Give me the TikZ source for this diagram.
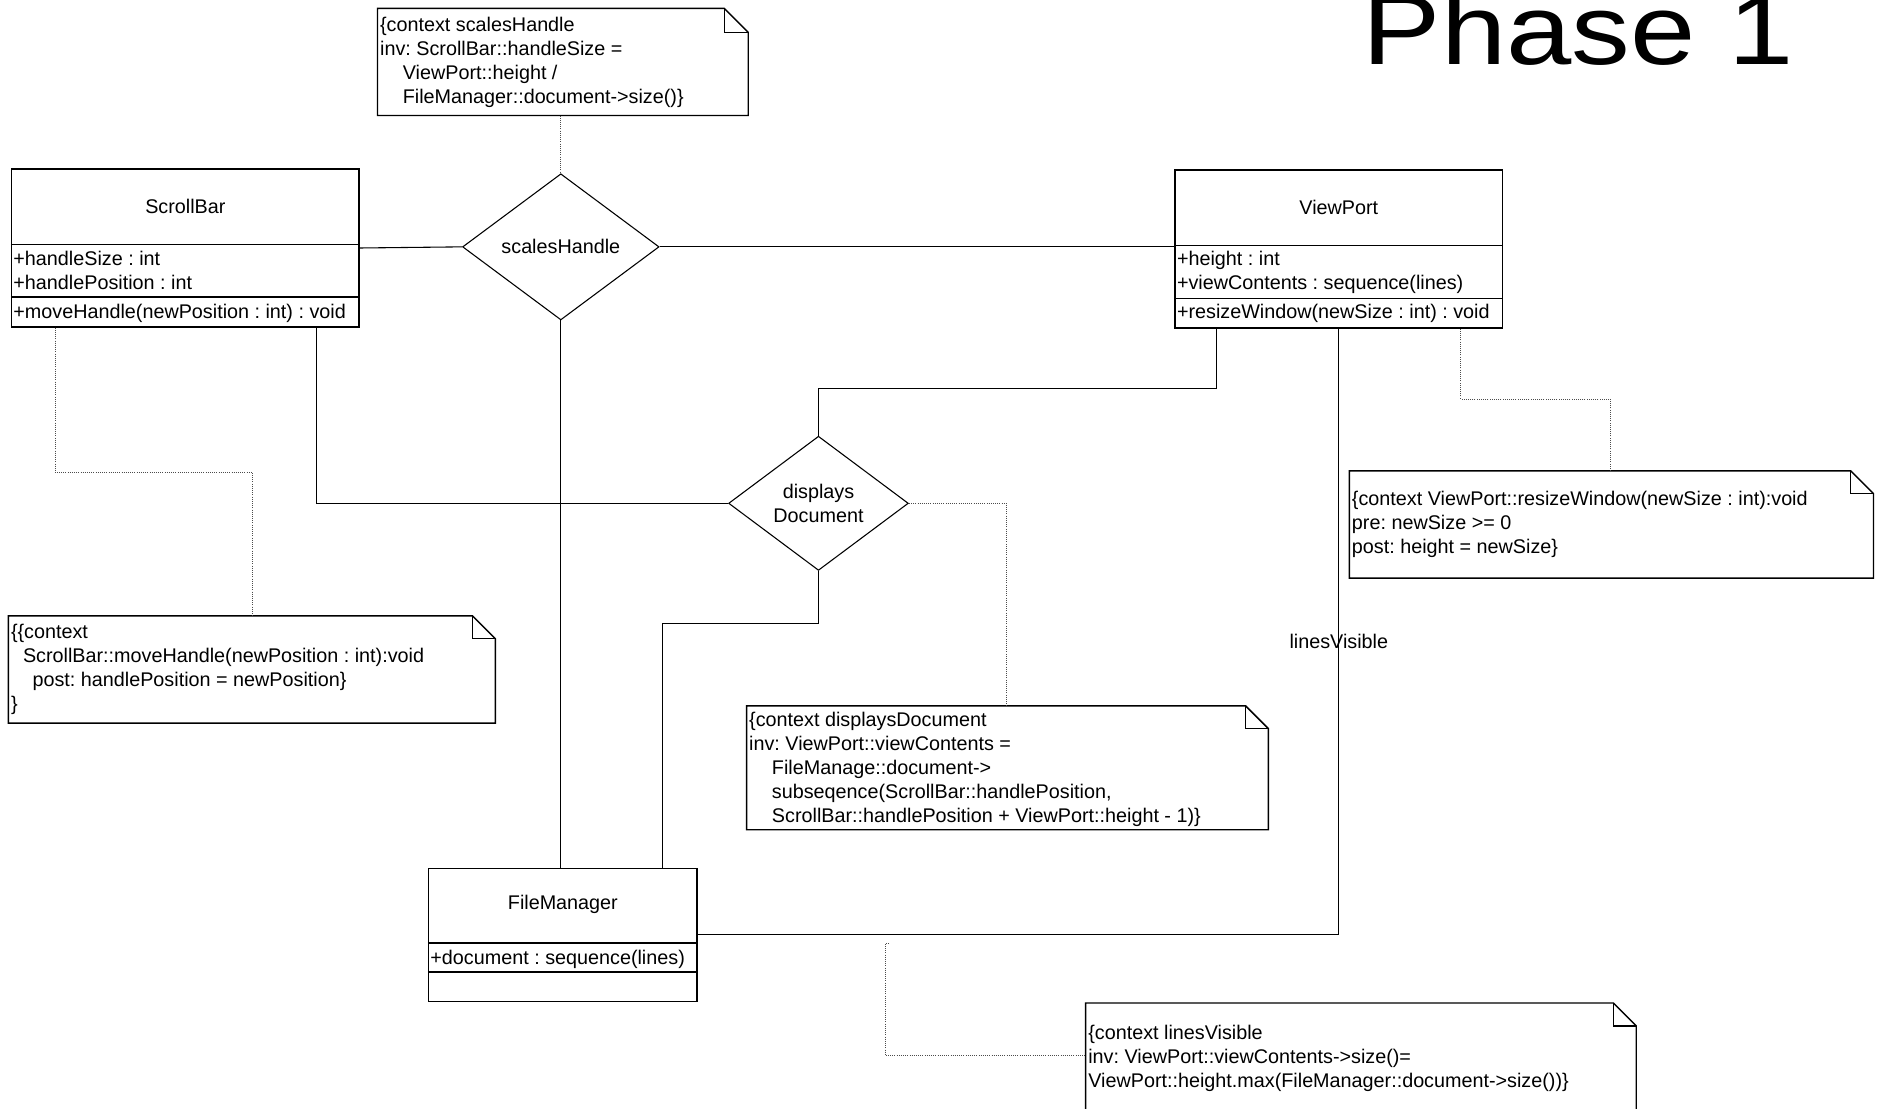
\documentclass[tikz,border=0pt]{standalone}
\usepackage{fontspec}
\usepackage{graphicx}
\setmainfont{Liberation Sans}
\usetikzlibrary{shapes.geometric,calc}
\newcommand\tf{\fontsize{16.5}{20}\selectfont\frenchspacing}
\newcommand\ind{\hspace*{19pt}}
\newcommand\drawnote[2][19]{%
  \draw[noteline] (#2.north west) -- ($(#2.north east)+(-#1,0)$) -- ($(#2.north east)+(0,#1)$) -- (#2.south east) -- (#2.south west) -- cycle;
  \draw[noteline] ($(#2.north east)+(-#1,0)$) |- ($(#2.north east)+(0,#1)$);
}
\begin{document}
\frenchspacing
\begin{tikzpicture}[x=1pt,y=-1pt,
  cls/.style={draw, line width=1.4pt, rectangle, inner sep=0pt, anchor=north west},
  sepl/.style={line width=1.4pt},
  notebg/.style={rectangle, inner sep=0pt, anchor=north west},
  noteline/.style={line width=1.2pt, line join=miter},
  txt/.style={anchor=north west, inner sep=0pt, align=left, font=\tf},
  ctr/.style={inner sep=0pt, align=center, font=\tf},
  rel/.style={diamond, draw, line width=0.9pt, inner sep=0pt, align=center, font=\tf},
  assoc/.style={line width=0.9pt},
  anchorl/.style={line width=0.8pt, densely dotted, black!70},
]
\useasboundingbox (0,0) rectangle (1568,925);
\clip (0,0) rectangle (1568,925);
\fill[white] (0,0) rectangle (1568,925);

% title
\node[anchor=base west, inner sep=0pt, font=\fontsize{83}{90}\selectfont] (title) at (1137,54) {\scalebox{1.18}[1]{Phase 1}};

% ScrollBar
\node[cls, minimum width=290pt, minimum height=131.5pt] (sb) at (9,140.5) {};
\draw[sepl] (sb.west |- 0,204) -- (sb.east |- 0,204);
\draw[sepl] (sb.west |- 0,248) -- (sb.east |- 0,248);
\node[ctr] (sbname) at (sb.north |- 0,172) {ScrollBar};
\node[txt] (sbattr) at (11,207) {\strut+handleSize : int\\+handlePosition : int};
\node[txt] (sbop) at (11,252) {\strut+moveHandle(newPosition : int) : void};

% ViewPort
\node[cls, minimum width=273pt, minimum height=132pt] (vp) at (980,141) {};
\draw[sepl] (vp.west |- 0,205) -- (vp.east |- 0,205);
\draw[sepl] (vp.west |- 0,249) -- (vp.east |- 0,249);
\node[ctr] (vpname) at (vp.north |- 0,173) {ViewPort};
\node[txt] (vpattr) at (982,207) {\strut+height : int\\+viewContents : sequence(lines)};
\node[txt] (vpop) at (982,252) {\strut+resizeWindow(newSize : int) : void};

% FileManager
\node[cls, minimum width=224pt, minimum height=111pt] (fm) at (357,724) {};
\draw[sepl] (fm.west |- 0,787) -- (fm.east |- 0,787);
\draw[sepl] (fm.west |- 0,811) -- (fm.east |- 0,811);
\node[ctr] (fmname) at (fm.north |- 0,755) {FileManager};
\node[txt] (fmattr) at (359,791) {\strut+document : sequence(lines)};

% association diamonds
\node[rel, minimum width=164pt, minimum height=122pt] (sh) at (468,206) {scalesHandle};
\node[rel, minimum width=150pt, minimum height=112pt] (dd) at (683,420) {displays\\Document};

% notes
\node[notebg, minimum width=309pt, minimum height=89pt] (shn) at (315,7) {};
\drawnote[20]{shn}
\node[txt] (shntext) at (317,12) {\strut\{context scalesHandle\\inv: ScrollBar::handleSize =\\\ind ViewPort::height /\\\ind FileManager::document->size()\}};

\node[notebg, minimum width=406pt, minimum height=89pt] (mhn) at (7,514) {};
\drawnote{mhn}
\node[txt] (mhntext) at (9,519) {\strut\{\{context\\\hspace*{10pt}ScrollBar::moveHandle(newPosition : int):void\\\hspace*{18pt}post: handlePosition = newPosition\}\\\}};

\node[notebg, minimum width=435pt, minimum height=103pt] (ddn) at (623,589) {};
\drawnote{ddn}
\node[txt] (ddntext) at (625,592) {\strut\{context displaysDocument\\inv: ViewPort::viewContents =\\\ind FileManage::document->\\\ind subseqence(ScrollBar::handlePosition,\\\ind ScrollBar::handlePosition + ViewPort::height - 1)\}};

\node[notebg, minimum width=437pt, minimum height=89pt] (rwn) at (1126,393) {};
\drawnote{rwn}
\node[txt] (rwntext) at (1128,408) {\strut\{context ViewPort::resizeWindow(newSize : int):void\\pre: newSize >= 0\\post: height = newSize\}};

\node[notebg, minimum width=459pt, minimum height=120pt] (lvn) at (906,837) {};
\drawnote{lvn}
\node[txt] (lvntext) at (908,853) {\strut\{context linesVisible\\inv: ViewPort::viewContents->size()=\\ViewPort::height.max(FileManager::document->size())\}};

% connectors
\draw[assoc] (sb.east) -- (sh.west);
\draw[assoc] (sh.east) -- (sh.east -| vp.west);
\draw[anchorl] (shn.south -| sh.north) -- (sh.north);
\draw[assoc] (sh.south) -- (sh.south |- fm.north);
\draw[assoc] ($(sb.south east)+(-36,0)$) |- (dd.west);
\draw[anchorl] ($(sb.south west)+(37,0)$) -- ++(0,121) -| ($(mhn.north west)+(204,0)$);
\draw[assoc] (dd.north) -- ++(0,-39) -| ($(vp.south west)+(35,0)$);
\draw[anchorl] (dd.east) -| ($(ddn.north west)+(217,0)$);
\draw[assoc] (dd.south) -- ++(0,44) -| ($(fm.north west)+(196,0)$);
\draw[assoc] (vp.south) |- (fm.east);
\node[font=\tf, inner sep=0pt] (lvlabel) at (vp.south |- 0,535) {linesVisible};
\draw[anchorl] ($(rwn.north west)+(218,0)$) |- ++(-125,-60) -- ($(vp.south west)+(239,0)$);
\coordinate (hk) at (739,787);
\draw[anchorl] ($(hk)+(3,0)$) -- (hk) |- (lvn.west |- 0,881);
\end{tikzpicture}
\end{document}
